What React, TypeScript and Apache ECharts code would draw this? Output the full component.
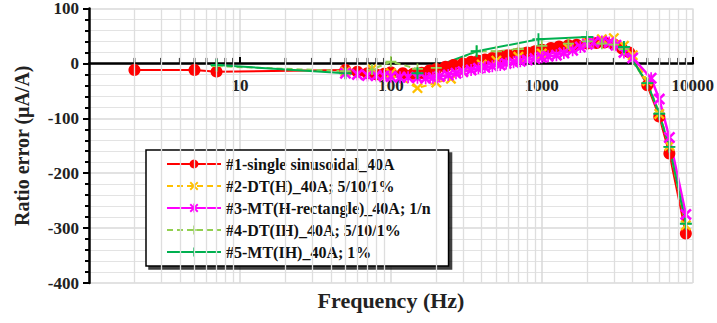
import React, { useEffect, useRef } from "react";
import * as echarts from "echarts";

// ---- data (frequency Hz, ratio error µA/A) ----
const seriesNames = [
  "#1-single sinusoidal_40A",
  "#2-DT(H)_40A; 5/10/1%",
  "#3-MT(H-rectangle)_40A; 1/n",
  "#4-DT(IH)_40A; 5/10/1%",
  "#5-MT(IH)_40A; 1%",
];

const s1SingleSine: [number, number][] = [
  [2, -12], [5, -12], [7, -15], [50, -12], [60, -15], [70, -18], [80, -20], [90, -19],
  [100, -16], [120, -18], [140, -19], [160, -17], [180, -13], [200, -10], [230, -6],
  [260, -3], [300, 0], [340, 3], [380, 5], [420, 7], [470, 10], [530, 13], [600, 15],
  [700, 18], [800, 20], [900, 22], [1000, 25], [1150, 28], [1300, 31], [1500, 33],
  [1700, 34], [2000, 36], [2300, 37], [2600, 38], [3000, 35], [3400, 27],
  [3800, 20], [5000, -40], [6000, -97], [7000, -164], [9000, -310],
];

const s2DtH: [number, number][] = [
  [50, -15], [75, -10], [100, -18], [150, -45], [200, -35], [250, -28], [300, -15],
  [400, -2], [500, 5], [700, 12], [1000, 18], [1500, 28], [2000, 38], [2500, 44],
  [3000, 46], [3500, 32], [4000, 15], [5000, -32], [6000, -92], [7000, -150], [9000, -295],
];

const s3MtHRect: [number, number][] = [
  [50, -18], [60, -20], [70, -22], [80, -22], [90, -23], [100, -24], [115, -25],
  [130, -25], [150, -26], [170, -27], [190, -26], [210, -24], [240, -21], [270, -18],
  [300, -15], [340, -12], [380, -9], [420, -7], [470, -5], [530, -3], [580, 0], [650, 2],
  [720, 4], [800, 6], [900, 9], [1000, 11], [1100, 13], [1250, 15], [1400, 19],
  [1600, 24], [1800, 30], [2000, 35], [2200, 38], [2500, 40], [2800, 38], [3100, 33],
  [3500, 20], [4000, 10], [5300, -27], [6000, -65], [7000, -135], [9000, -275],
];

const s4DtIH: [number, number][] = [
  [7, -5], [50, -14], [75, -11], [100, 3], [150, -10], [200, -8], [370, 22], [500, 22],
  [700, 26], [1000, 32], [1500, 36], [2000, 40], [2500, 36], [3000, 34], [3500, 26],
  [5000, -36], [6000, -90], [7000, -152], [9000, -292],
];

const s5MtIH: [number, number][] = [
  [7, -3], [50, -18], [150, -18], [370, 22], [950, 44], [2000, 48], [3500, 30],
  [5000, -36], [6000, -92], [7000, -152], [9000, -292],
];

const minorFreqGrid = [
  2, 3, 4, 5, 6, 7, 8, 9,
  20, 30, 40, 50, 60, 70, 80, 90,
  200, 300, 400, 500, 600, 700, 800, 900,
  2000, 3000, 4000, 5000, 6000, 7000, 8000, 9000,
];

const xMin = 1;
const xMax = 10000;
const yMin = -400;
const yMax = 100;
const yInterval = 100;

const SERIF = "'Liberation Serif', 'Times New Roman', serif";

const SYM_X =
  "path://M1.5,0L5,3.5L8.5,0L10,1.5L6.5,5L10,8.5L8.5,10L5,6.5L1.5,10L0,8.5L3.5,5L0,1.5Z";
const SYM_STAR =
  "path://M1.5,0L5,3.5L8.5,0L10,1.5L6.5,5L10,8.5L8.5,10L5,6.5L1.5,10L0,8.5L3.5,5L0,1.5Z M4.3,0H5.7V10H4.3Z";
const SYM_PLUS = "path://M4.2,0H5.8V4.2H10V5.8H5.8V10H4.2V5.8H0V4.2H4.2Z";

const GRID_TOP = 8;
const GRID_BOTTOM = 40;
const CHART_H = 323;

export default function App() {
  const ref = useRef<HTMLDivElement>(null);

  useEffect(() => {
    if (!ref.current) return;
    const chart = echarts.init(ref.current, undefined, { renderer: "svg" });

    const colors = ["#FF0000", "#FFC000", "#FF00FF", "#92D050", "#00B050"];
    const plotH = CHART_H - GRID_TOP - GRID_BOTTOM;
    // move the x axis (line, ticks and labels) up to the y = 0 position
    const zeroOffset = -plotH * (0 - yMin) / (yMax - yMin);

    const option: any = {
      animation: false,
      backgroundColor: "#ffffff",
      grid: { left: 89, right: 24, top: GRID_TOP, bottom: GRID_BOTTOM, containLabel: false },
      title: {
        text: "Frequency (Hz)",
        left: 391,
        textAlign: "center",
        top: 289,
        padding: 0,
        textStyle: { fontFamily: SERIF, fontWeight: "bold", fontSize: 22, color: "#222" },
      },
      legend: {
        data: seriesNames,
        orient: "vertical",
        left: 146,
        top: 150,
        padding: [6, 18, 6, 20],
        itemWidth: 54,
        itemHeight: 11,
        itemGap: 6,
        backgroundColor: "#ffffff",
        borderColor: "#000000",
        borderWidth: 1.5,
        shadowColor: "rgba(0,0,0,0.75)",
        shadowBlur: 1,
        shadowOffsetX: 3,
        shadowOffsetY: 3,
        textStyle: { fontFamily: SERIF, fontWeight: "bold", fontSize: 16, color: "#111" },
      },
      xAxis: {
        type: "log",
        logBase: 10,
        min: xMin,
        max: xMax,
        offset: zeroOffset,
        axisLine: { onZero: false, lineStyle: { color: "#000", width: 2.5 } },
        axisTick: { show: true, inside: true, length: 6, lineStyle: { color: "#000", width: 2 } },
        axisLabel: {
          margin: 14,
          fontFamily: SERIF,
          fontWeight: "bold",
          fontSize: 17,
          color: "#222",
          showMinLabel: false,
          formatter: (v: number) => (v <= 1 ? "" : String(v)),
        },
        splitLine: { show: true, lineStyle: { color: "#d9d9d9", width: 1.5 } },
      },
      yAxis: {
        type: "value",
        min: yMin,
        max: yMax,
        interval: yInterval,
        name: "Ratio error (μA/A)",
        nameLocation: "middle",
        nameGap: 57,
        nameTextStyle: { fontFamily: SERIF, fontWeight: "bold", fontSize: 20, color: "#222" },
        axisLine: { show: true, onZero: false, lineStyle: { color: "#000", width: 2.5 } },
        axisTick: { show: true, length: 6, lineStyle: { color: "#000", width: 2 } },
        minorTick: { show: true, splitNumber: 5, length: 4, lineStyle: { color: "#000", width: 2 } },
        axisLabel: {
          margin: 10,
          fontFamily: SERIF,
          fontWeight: "bold",
          fontSize: 17,
          color: "#222",
        },
        splitLine: { show: true, lineStyle: { color: "#d9d9d9", width: 1.5 } },
        minorSplitLine: { show: true, lineStyle: { color: "#e3e3e3", width: 1.2 } },
      },
      series: [
        {
          name: "grid-minor",
          type: "line",
          data: [],
          silent: true,
          z: 0,
          markLine: {
            silent: true,
            symbol: "none",
            label: { show: false },
            lineStyle: { color: "#dedede", type: "solid", width: 1.3 },
            data: minorFreqGrid.map((f) => ({ xAxis: f })),
          },
        },
        {
          name: "x-minor-ticks",
          type: "scatter",
          silent: true,
          z: 1,
          data: minorFreqGrid.map((f) => [f, 0]),
          symbol: "rect",
          symbolSize: [2, 5],
          symbolOffset: [0, -3],
          itemStyle: { color: "#000" },
        },
        {
          name: seriesNames[0],
          type: "line",
          data: s1SingleSine,
          color: colors[0],
          symbol: "circle",
          symbolSize: 12,
          lineStyle: { width: 2, color: colors[0] },
          itemStyle: { color: colors[0] },
        },
        {
          name: seriesNames[1],
          type: "line",
          data: s2DtH,
          color: colors[1],
          symbol: SYM_X,
          symbolSize: 11,
          lineStyle: { width: 2, type: [6, 4], color: colors[1] },
          itemStyle: { color: colors[1] },
        },
        {
          name: seriesNames[2],
          type: "line",
          data: s3MtHRect,
          color: colors[2],
          symbol: SYM_STAR,
          symbolSize: 12,
          lineStyle: { width: 2.5, color: colors[2] },
          itemStyle: { color: colors[2] },
        },
        {
          name: seriesNames[3],
          type: "line",
          data: s4DtIH,
          color: colors[3],
          symbol: SYM_PLUS,
          symbolSize: 11,
          lineStyle: { width: 2, type: [6, 4], color: colors[3] },
          itemStyle: { color: colors[3] },
        },
        {
          name: seriesNames[4],
          type: "line",
          data: s5MtIH,
          color: colors[4],
          symbol: SYM_PLUS,
          symbolSize: 12,
          lineStyle: { width: 2, color: colors[4] },
          itemStyle: { color: colors[4] },
        },
      ],
    };

    chart.setOption(option);
    return () => chart.dispose();
  }, []);

  return (
    <div
      ref={ref}
      style={{ position: "absolute", left: 0, top: 0, width: 717, height: CHART_H }}
    />
  );
}
